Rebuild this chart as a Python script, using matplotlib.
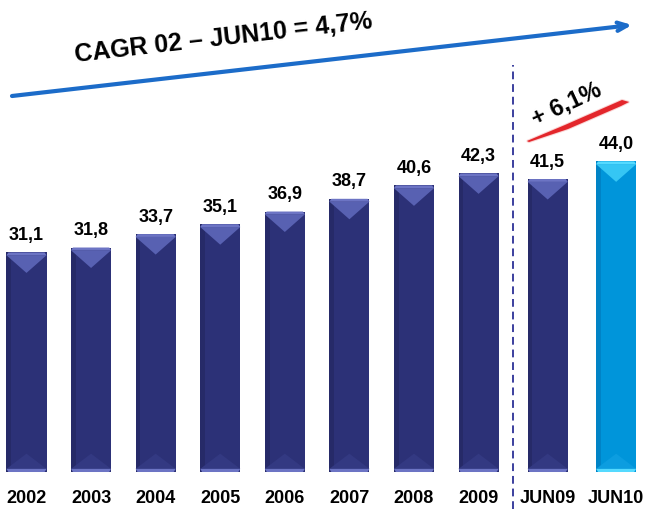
import numpy as np
import matplotlib.pyplot as plt
from matplotlib.patches import Polygon

# chart data
categories = ['2002', '2003', '2004', '2005', '2006', '2007', '2008', '2009', 'JUN09', 'JUN10']
values = [31.1, 31.8, 33.7, 35.1, 36.9, 38.7, 40.6, 42.3, 41.5, 44.0]
value_labels = ['31,1', '31,8', '33,7', '35,1', '36,9', '38,7', '40,6', '42,3', '41,5', '44,0']
cagr_label = 'CAGR 02 – JUN10 = 4,7%'
growth_label = '+ 6,1%'

W, H = 651, 509

plt.rcParams['font.family'] = ['Liberation Sans', 'DejaVu Sans']

fig = plt.figure(figsize=(W / 100, H / 100), dpi=100)
ax = fig.add_axes([0, 0, 1, 1])
ax.set_axis_off()
ax.set_xlim(-0.41, 9.67)
ax.set_ylim(-5.24, 66.86)


def px(xp, yp):
    # pixel (from top-left) -> axes fraction
    return (xp / W, 1 - yp / H)


x = np.arange(len(values), dtype=float)
x[8] += 0.07  # little extra room after the divider
x[9] += 0.13

navy = dict(main='#2C3177', dark='#262A68', light='#5861B2', band='#6C74C4', foot='#333982')
sky = dict(main='#0095DA', dark='#0083C6', light='#35C6F4', band='#55DAFF', foot='#0C9DE0')
styles = [navy] * 9 + [sky]

bw = 0.62
bars = ax.bar(x, values, width=bw, color=[s['main'] for s in styles], zorder=2)

# fake 3d look on each bar
for rect, st in zip(bars, styles):
    x0, w, h = rect.get_x(), rect.get_width(), rect.get_height()
    ax.add_patch(Polygon([(x0, 0), (x0 + w * 0.12, 0), (x0 + w * 0.12, h), (x0, h)],
                         color=st['dark'], zorder=3, lw=0))
    ax.add_patch(Polygon([(x0 + w / 2, 0), (x0 + w, 0), (x0 + w, h), (x0 + w / 2, h)],
                         color=st['main'], alpha=0.6, zorder=3, lw=0))
    ax.add_patch(Polygon([(x0, 0.45), (x0 + w, 0.45), (x0 + w / 2, 2.6)],
                         color=st['foot'], zorder=4, lw=0))
    ax.add_patch(Polygon([(x0 + 0.03, 0), (x0 + w - 0.03, 0), (x0 + w, 0.45), (x0, 0.45)],
                         color=st['band'], zorder=4, lw=0))
    ax.add_patch(Polygon([(x0, h - 0.4), (x0 + w, h - 0.4), (x0 + w / 2, h - 2.9)],
                         color=st['light'], zorder=4, lw=0))
    ax.add_patch(Polygon([(x0, h - 0.4), (x0 + 0.03, h), (x0 + w - 0.03, h), (x0 + w, h - 0.4)],
                         color=st['band'], zorder=4, lw=0))

for xi, v, lbl in zip(x, values, value_labels):
    ax.annotate(lbl, (xi, v), xytext=(0, 6), textcoords='offset points',
                ha='center', va='bottom', fontsize=13, fontweight='bold', color='black')

for xi, cat in zip(x, categories):
    ax.text(xi, -3.7, cat, ha='center', va='center', fontsize=13, fontweight='bold')

# divider between years and half-years
xd = (x[7] + x[8]) / 2
ax.plot([xd, xd], [-5.3, 57.6], ls=(0, (4, 2.5)), color='#3B3F9E', lw=1.4, zorder=1)

# long blue trend arrow
ax.annotate('', xy=px(632, 25), xytext=px(12, 96), xycoords='axes fraction',
            arrowprops=dict(arrowstyle='->,head_length=0.7,head_width=0.3',
                            color='#1C6CC9', lw=3, shrinkA=0, shrinkB=0))
ax.text(*px(223, 38), cagr_label, transform=ax.transAxes, rotation=6.5,
        rotation_mode='anchor', ha='center', va='center', fontsize=18,
        fontweight='bold')

# red swoosh for the half-year growth
swoosh = [px(527, 141), px(565, 125), px(622, 100), px(629, 102), px(621, 106),
          px(568, 129), px(529, 142)]
ax.add_patch(Polygon(swoosh, closed=True, transform=ax.transAxes,
                     color='#F07070', alpha=0.3, lw=1.5, zorder=5))
ax.add_patch(Polygon(swoosh, closed=True, transform=ax.transAxes,
                     color='#E3262B', lw=0, zorder=6))
ax.text(*px(566, 104), growth_label, transform=ax.transAxes, rotation=25,
        rotation_mode='anchor', ha='center', va='center', fontsize=17,
        fontweight='bold')

fig.savefig('out.png', dpi=100)
